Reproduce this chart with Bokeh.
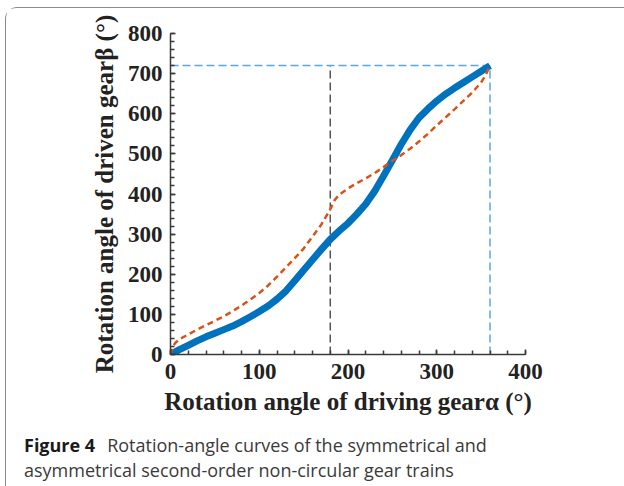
from bokeh.plotting import figure
from bokeh.models import Range1d, FixedTicker, Div
from bokeh.layouts import column
from bokeh.embed import file_html
from bokeh.resources import INLINE

# ---- data ----
alpha_sym = [0, 10, 20, 30, 40, 50, 60, 70, 80, 90, 100, 110, 120, 130, 140, 150, 160, 170, 180,
             190, 200, 210, 220, 230, 240, 250, 260, 270, 280, 290, 300, 310, 320, 330, 340, 350, 360]
beta_sym = [0, 12, 23, 34, 44, 53, 62, 71, 82, 94, 107, 121, 138, 158, 184, 210, 236, 262, 287,
            308, 327, 350, 375, 407, 445, 484, 524, 560, 590, 612, 632, 649, 664, 678, 692, 706, 720]

alpha_asym = [0, 2, 5, 10, 20, 30, 40, 50, 60, 70, 80, 90, 100, 110, 120, 130, 140, 150, 160, 170, 180,
              185, 190, 200, 210, 220, 230, 240, 250, 260, 270, 280, 290, 300, 310, 320, 330, 340, 350, 355, 360]
beta_asym = [0, 16, 28, 38, 50, 62, 73, 84, 95, 108, 122, 137, 153, 172, 194, 217, 240, 264, 294, 324, 362,
             385, 398, 414, 427, 439, 452, 467, 483, 497, 513, 531, 550, 571, 591, 611, 632, 653, 678, 696, 720]

half_alpha = 180
full_alpha = 360
full_beta = 720

x_ticks = [0, 100, 200, 300, 400]
y_ticks = [0, 100, 200, 300, 400, 500, 600, 700, 800]

x_label = "Rotation angle of driving gear\u03b1 (\u00b0)"
y_label = "Rotation angle of driven gear\u03b2 (\u00b0)"
caption_bold = "Figure 4"
caption_line1 = "Rotation-angle curves of the symmetrical and"
caption_line2 = "asymmetrical second-order non-circular gear trains"

# ---- figure ----
p = figure(width=617, height=420, output_backend="svg", toolbar_location=None,
           x_range=Range1d(0, 400), y_range=Range1d(0, 800),
           min_border_left=164, min_border_right=98, min_border_top=25, min_border_bottom=74)
p.outline_line_color = None
p.xgrid.visible = False
p.ygrid.visible = False
p.background_fill_color = "white"
p.border_fill_color = "white"

for ax, ticks, lab in ((p.xaxis[0], x_ticks, x_label), (p.yaxis[0], y_ticks, y_label)):
    ax.ticker = FixedTicker(ticks=ticks, minor_ticks=list(range(ticks[0], ticks[-1] + 1, 20)))
    ax.axis_label = lab
    ax.axis_line_color = "#3a3a3a"
    ax.axis_line_width = 1.5
    ax.major_tick_in = 5
    ax.major_tick_out = 0
    ax.minor_tick_in = 4
    ax.minor_tick_out = 0
    ax.major_tick_line_color = "#3a3a3a"
    ax.minor_tick_line_color = "#3a3a3a"
    ax.major_tick_line_width = 1.5
    ax.minor_tick_line_width = 1.5
    ax.major_label_text_font = "Liberation Serif"
    ax.major_label_text_font_style = "bold"
    ax.major_label_text_font_size = "23px"
    ax.major_label_text_color = "#222222"
    ax.axis_label_text_font = "Liberation Serif"
    ax.axis_label_text_font_style = "bold"
    ax.axis_label_text_font_size = "25px"
    ax.axis_label_text_color = "#222222"

p.xaxis.major_label_standoff = 9
p.xaxis.axis_label_standoff = 6
p.yaxis.major_label_standoff = 8
p.yaxis.axis_label_standoff = 7

# guide lines
p.line([half_alpha, half_alpha], [0, full_beta], line_color="#555555", line_width=1.5, line_dash="8 4")
p.line([0, full_alpha], [full_beta, full_beta], line_color="#5aa6dc", line_width=1.5, line_dash="8 4")
p.line([full_alpha, full_alpha], [0, full_beta], line_color="#5aa6dc", line_width=1.5, line_dash="8 4")

# curves
p.line(alpha_sym, beta_sym, line_color="#0072BD", line_width=7, line_join="round", line_cap="butt")
p.line(alpha_asym, beta_asym, line_color="#D95319", line_width=2.5, line_dash="6 4")

# caption
cap = Div(text=(f'<div style="font-family:\'Open Sans\';font-size:18px;line-height:25px;color:#3a3a3a;'
                f'padding-left:13px;white-space:nowrap">'
                f'<span style="font-weight:700;font-size:18px;color:#1a1a1a;margin-right:12px">{caption_bold}</span>'
                f'{caption_line1}<br>{caption_line2}</div>'),
          width=617, height=56)

layout = column(p, cap, spacing=0, margin=(7, 0, 0, 5),
                styles={"border-top": "1.5px solid #8c8c8c", "border-left": "1.5px solid #8c8c8c",
                        "border-top-left-radius": "12px", "background": "white"})

open("out.html", "w").write(file_html(layout, INLINE))
